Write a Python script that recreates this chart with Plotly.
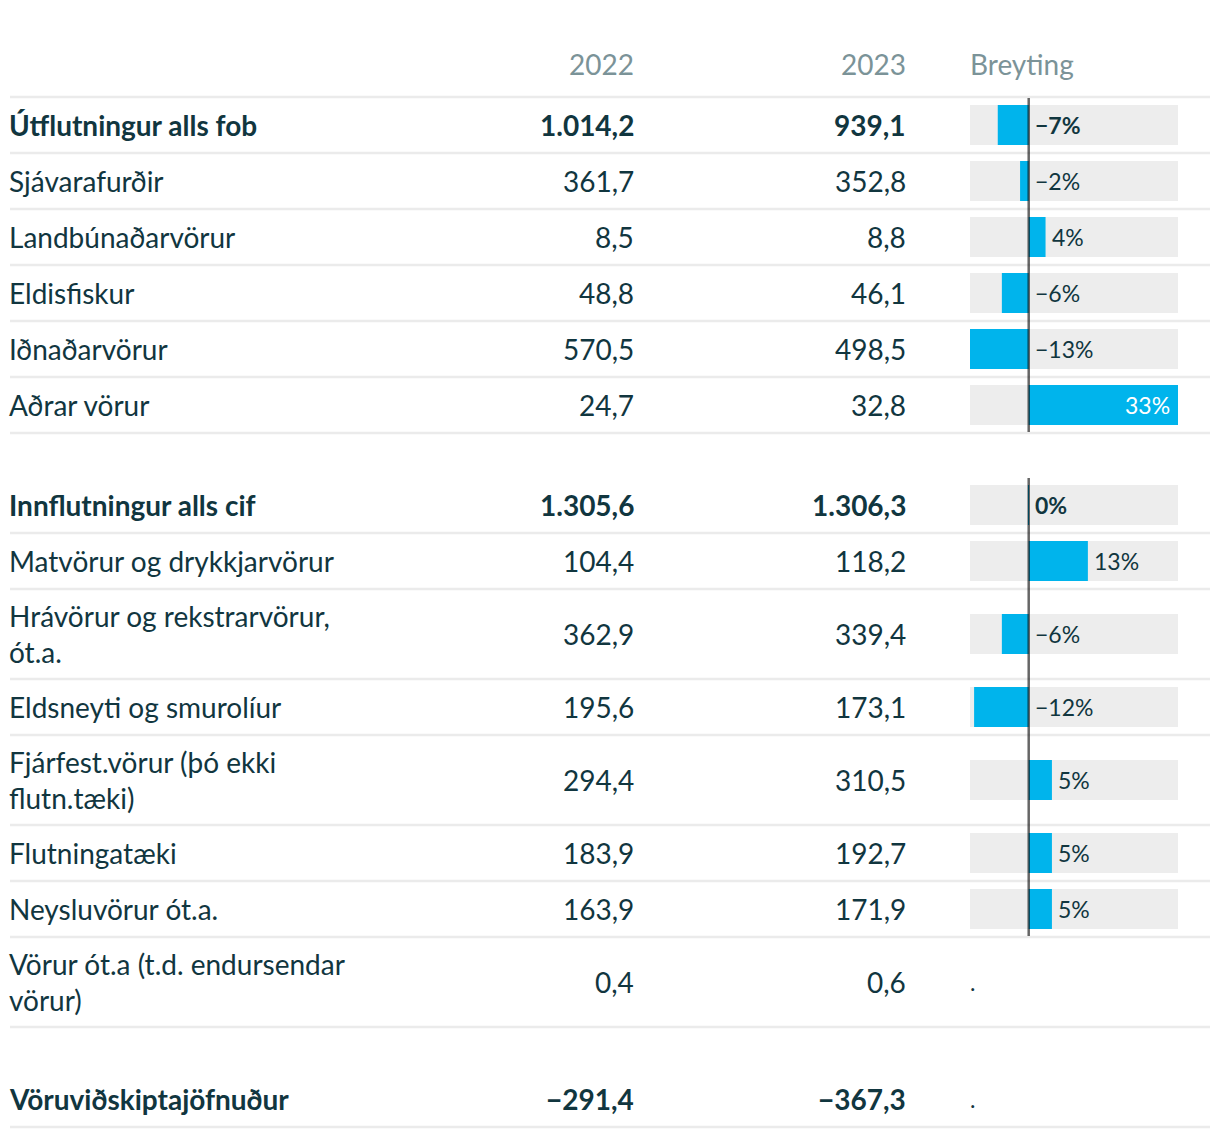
import plotly.graph_objects as go

# ---------------- data ----------------
headers = ["2022", "2023", "Breyting"]
labels = [
    "Útflutningur alls fob",
    "Sjávarafurðir",
    "Landbúnaðarvörur",
    "Eldisfiskur",
    "Iðnaðarvörur",
    "Aðrar vörur",
    "Innflutningur alls cif",
    "Matvörur og drykkjarvörur",
    "Hrávörur og rekstrarvörur,\nót.a.",
    "Eldsneyti og smurolíur",
    "Fjárfest.vörur (þó ekki\nflutn.tæki)",
    "Flutningatæki",
    "Neysluvörur ót.a.",
    "Vörur ót.a (t.d. endursendar\nvörur)",
    "Vöruviðskiptajöfnuður",
]
v2022 = [1014.2, 361.7, 8.5, 48.8, 570.5, 24.7, 1305.6, 104.4, 362.9, 195.6, 294.4, 183.9, 163.9, 0.4, -291.4]
v2023 = [939.1, 352.8, 8.8, 46.1, 498.5, 32.8, 1306.3, 118.2, 339.4, 173.1, 310.5, 192.7, 171.9, 0.6, -367.3]
change = [-6.8, -1.9, 3.7, -5.9, -12.9, 32.8, 0.05, 13.0, -5.9, -12.0, 5.1, 5.1, 5.1, None, None]
bold_rows = [0, 6, 14]
group_starts = [6, 14]

# ---------------- style / layout (page pixel coordinates) ----------------
OFF = 8                      # default page body margin
WIN_W, WIN_H = 1220, 1138
W, H = WIN_W - 2 * OFF, WIN_H - 2 * OFF
FONT = "Lato"
TXT = "#11363f"
HDR = "#7b9398"
BAR = "#00b4ec"
BG = "#ededed"
SEP = "#ebebeb"
FS = 28
FS_PCT = 23
X_LABEL = 7
X_2022 = 636
X_2023 = 908
COL_L, COL_R = 970, 1178
HEADER_Y = 64
HEADER_BOTTOM = 97
ROW_H1, ROW_H2, GAP = 56, 90, 44

# row geometry
tops, centers, bottoms = [], [], []
y = HEADER_BOTTOM
for i, lab in enumerate(labels):
    if i in group_starts:
        y += GAP
    h = ROW_H2 if "\n" in lab else ROW_H1
    tops.append(y)
    centers.append(y + h / 2)
    bottoms.append(y + h)
    y += h


def fmt_num(v):
    s = f"{abs(v):,.1f}".replace(",", "X").replace(".", ",").replace("X", ".")
    return ("\u2212" if v < 0 else "") + s


def fmt_pct(v):
    r = int(round(v))
    return ("\u2212" if r < 0 else "") + f"{abs(r)}%"


def px(x):
    return (x - OFF) / W


fig = go.Figure()

valid = [i for i, c in enumerate(change) if c is not None]
fig.add_trace(go.Bar(
    orientation="h",
    x=[change[i] for i in valid],
    y=[centers[i] for i in valid],
    width=40,
    marker=dict(color=BAR, line=dict(width=0)),
    hoverinfo="skip",
    showlegend=False,
))

shapes = []
annotations = []

# header
for txt, x, anchor in [(headers[0], X_2022, "right"), (headers[1], X_2023, "right"), (headers[2], COL_L - 2, "left")]:
    annotations.append(dict(text=txt, x=px(x), xref="paper", y=HEADER_Y, yref="y", xanchor=anchor,
                            yanchor="middle", showarrow=False, font=dict(family=FONT, size=FS, color=HDR)))

# separators
sep_ys = [HEADER_BOTTOM] + bottoms
for sy in sep_ys:
    shapes.append(dict(type="line", xref="paper", x0=px(10), x1=px(1210), yref="y", y0=sy, y1=sy,
                       line=dict(color=SEP, width=2.5), layer="below"))

xmin = min(c for c in change if c is not None)
xmax = max(c for c in change if c is not None)

for i, lab in enumerate(labels):
    b = i in bold_rows
    wrap = (lambda s: f"<b>{s}</b>") if b else (lambda s: s)
    annotations.append(dict(text=wrap(lab.replace("\n", "<br>")), x=px(X_LABEL), xref="paper",
                            y=centers[i], yref="y", xanchor="left", yanchor="middle", align="left",
                            showarrow=False, font=dict(family=FONT, size=FS, color=TXT)))
    for val, xc in [(v2022[i], X_2022), (v2023[i], X_2023)]:
        annotations.append(dict(text=wrap(fmt_num(val)), x=px(xc), xref="paper", y=centers[i], yref="y",
                                xanchor="right", yanchor="middle", showarrow=False,
                                font=dict(family=FONT, size=FS, color=TXT)))
    c = change[i]
    if c is None:
        annotations.append(dict(text=".", x=px(COL_L - 2), xref="paper", y=centers[i], yref="y",
                                xanchor="left", yanchor="middle", showarrow=False,
                                font=dict(family=FONT, size=FS_PCT, color=TXT)))
        continue
    shapes.append(dict(type="rect", xref="x domain", x0=0, x1=1, yref="y",
                       y0=centers[i] - 20, y1=centers[i] + 20, fillcolor=BG, line=dict(width=0),
                       layer="below"))
    if c > 0.7 * xmax:
        annotations.append(dict(text=wrap(fmt_pct(c)), x=c, xref="x", y=centers[i], yref="y",
                                xanchor="right", xshift=-6, yanchor="middle", showarrow=False,
                                font=dict(family=FONT, size=FS_PCT, color="white")))
    else:
        annotations.append(dict(text=wrap(fmt_pct(c)), x=max(c, 0), xref="x", y=centers[i], yref="y",
                                xanchor="left", xshift=4, yanchor="middle", showarrow=False,
                                font=dict(family=FONT, size=FS_PCT, color=TXT)))

# zero lines per group
groups = [(0, 6), (6, 14)]
for g0, g1 in groups:
    idx = [i for i in range(g0, g1) if change[i] is not None]
    shapes.append(dict(type="line", xref="x", x0=0, x1=0, yref="y",
                       y0=tops[idx[0]] + 1, y1=bottoms[idx[-1]] - 1,
                       line=dict(color="rgba(0,0,0,0.6)", width=2.5), layer="above"))

fig.update_layout(
    width=W, height=H,
    margin=dict(l=0, r=0, t=0, b=0),
    paper_bgcolor="white", plot_bgcolor="rgba(0,0,0,0)",
    xaxis=dict(domain=[px(COL_L), px(COL_R)], range=[xmin, xmax], visible=False, fixedrange=True),
    yaxis=dict(domain=[0, 1], range=[OFF + H, OFF], visible=False, fixedrange=True),
    shapes=shapes, annotations=annotations,
    showlegend=False, hovermode=False,
    font=dict(family=FONT, color=TXT),
)

fig.write_html("out.html", config={"displayModeBar": False})
